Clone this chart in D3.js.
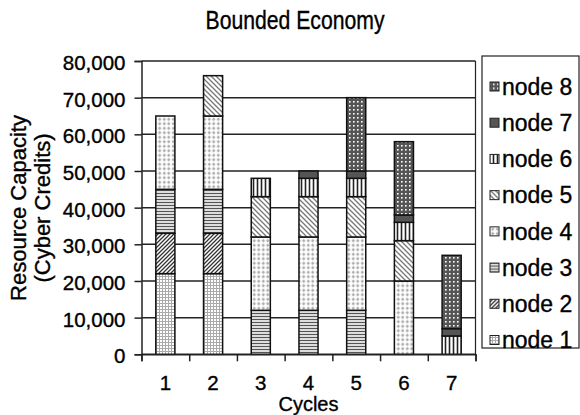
<!DOCTYPE html>
<html>
<head>
<meta charset="utf-8">
<script src="https://cdn.jsdelivr.net/npm/d3@7"></script>
<style>
  body { margin: 0; background: #fff; }
  text { font-family: "Liberation Sans", Arial, sans-serif; fill: #000; stroke: #000; stroke-width: 0.35px; }
</style>
</head>
<body>
<div id="chart"></div>
<script>
// data
var cycles = ["1", "2", "3", "4", "5", "6", "7"];
var nodes = ["node 1", "node 2", "node 3", "node 4", "node 5", "node 6", "node 7", "node 8"];
var node1 = [22000, 22000, 0, 0, 0, 0, 0];
var node2 = [11000, 11000, 0, 0, 0, 0, 0];
var node3 = [12000, 12000, 12000, 12000, 12000, 0, 0];
var node4 = [20000, 20000, 20000, 20000, 20000, 20000, 0];
var node5 = [0, 11000, 11000, 11000, 11000, 11000, 0];
var node6 = [0, 0, 5000, 5000, 5000, 5000, 5000];
var node7 = [0, 0, 0, 2000, 2000, 2000, 2000];
var node8 = [0, 0, 0, 0, 20000, 20000, 20000];
var yTicks = [0, 10000, 20000, 30000, 40000, 50000, 60000, 70000, 80000];

var series = [node1, node2, node3, node4, node5, node6, node7, node8];
var rows = cycles.map(function (c, i) {
  var r = { cycle: c };
  nodes.forEach(function (n, j) { r[n] = series[j][i]; });
  return r;
});

var width = 580, height = 415;
var plotL = 141.5, plotR = 475.5, plotT = 61, plotB = 354.3;

var svg = d3.select("#chart").append("svg")
  .attr("width", width).attr("height", height);

/* patterns */
var defs = svg.append("defs");
function pat(id, w, h, bg) {
  var p = defs.append("pattern").attr("id", id)
    .attr("patternUnits", "userSpaceOnUse").attr("width", w).attr("height", h);
  p.append("rect").attr("width", w).attr("height", h).attr("fill", bg);
  return p;
}
var p1 = pat("p1", 3, 3, "#fff");
p1.append("path").attr("d", "M0,0.5H3M0.5,0V3").attr("stroke", "#aaa").attr("stroke-width", 1);
var p2 = pat("p2", 4, 4, "#fff");
p2.append("path").attr("d", "M-1,1L1,-1M0,4L4,0M3,5L5,3").attr("stroke", "#333").attr("stroke-width", 1.3);
var p3 = pat("p3", 3, 3, "#fff");
p3.append("path").attr("d", "M0,1.5H3").attr("stroke", "#555").attr("stroke-width", 1.4);
var p4 = pat("p4", 4.5, 4.5, "#fff");
p4.append("path").attr("d", "M2.25,0.75V3.75M0.75,2.25H3.75").attr("stroke", "#aaa").attr("stroke-width", 1.3);
var p5 = pat("p5", 5, 5, "#fff");
p5.append("path").attr("d", "M-1,4L1,6M0,0L5,5M4,-1L6,1").attr("stroke", "#777").attr("stroke-width", 1.3);
var p6 = pat("p6", 4, 4, "#fff");
p6.append("path").attr("d", "M1.5,0V4").attr("stroke", "#222").attr("stroke-width", 1.6);
pat("p7", 4, 4, "#555");
var p8 = pat("p8", 4, 4, "#555");
p8.append("rect").attr("x", 1).attr("y", 1).attr("width", 1.6).attr("height", 1.6).attr("fill", "#fff");
var fills = ["url(#p1)", "url(#p2)", "url(#p3)", "url(#p4)", "url(#p5)", "url(#p6)", "url(#p7)", "url(#p8)"];

/* scales */
var x = d3.scaleBand().domain(cycles).range([plotL, plotR]).paddingInner(0.6).paddingOuter(0.3);
var xEdges = d3.scaleLinear().domain([0, cycles.length]).range([plotL, plotR]);
var y = d3.scaleLinear().domain([0, 80000]).range([plotB, plotT]);

/* gridlines */
svg.append("g").selectAll("line").data(yTicks).enter().append("line")
  .attr("x1", plotL).attr("x2", plotR)
  .attr("y1", function (d) { return y(d); }).attr("y2", function (d) { return y(d); })
  .attr("stroke", "#222").attr("stroke-width", 1.5);
svg.append("line").attr("x1", plotR).attr("x2", plotR).attr("y1", plotT).attr("y2", plotB)
  .attr("stroke", "#222").attr("stroke-width", 1.2);

/* bars */
var stack = d3.stack().keys(nodes)(rows);
var groups = svg.append("g").selectAll("g").data(stack).enter().append("g")
  .attr("fill", function (d, i) { return fills[i]; });
groups.selectAll("rect")
  .data(function (d) { return d.filter(function (s) { return s[1] - s[0] > 0; }); })
  .enter().append("rect")
  .attr("x", function (d) { return x(d.data.cycle); })
  .attr("width", x.bandwidth())
  .attr("y", function (d) { return y(d[1]); })
  .attr("height", function (d) { return y(d[0]) - y(d[1]); })
  .attr("stroke", "#111").attr("stroke-width", 1.5);

/* axes */
var yAxis = d3.axisLeft(y).tickValues(yTicks).tickFormat(d3.format(",")).tickSize(7).tickPadding(9);
var gy = svg.append("g").attr("transform", "translate(" + plotL + ",0)").call(yAxis);
gy.selectAll("text").style("font-size", "20.5px").attr("dy", "0.42em");

var gxe = svg.append("g").attr("transform", "translate(0," + plotB + ")")
  .call(d3.axisBottom(xEdges).ticks(cycles.length).tickFormat("").tickSize(7));
var gx = svg.append("g").attr("transform", "translate(0," + plotB + ")")
  .call(d3.axisBottom(x).tickSize(0).tickPadding(21));
gx.select(".domain").remove();
gx.selectAll("text").style("font-size", "20.5px");
[gy, gxe].forEach(function (g) {
  g.selectAll("line, path").attr("stroke", "#222").attr("stroke-width", 1.5);
});

/* titles */
svg.append("text").attr("x", 295).attr("y", 29).attr("text-anchor", "middle")
  .attr("textLength", 179).attr("lengthAdjust", "spacingAndGlyphs")
  .style("font-size", "25px").text("Bounded Economy");
svg.append("text").attr("x", 308.5).attr("y", 410.5).attr("text-anchor", "middle")
  .style("font-size", "20px").text("Cycles");
var yt = svg.append("text").attr("transform", "translate(26,208) rotate(-90)")
  .attr("text-anchor", "middle").style("font-size", "22px");
yt.append("tspan").attr("x", 0).attr("y", 0).text("Resource Capacity");
yt.append("tspan").attr("x", 0).attr("y", 24).text("(Cyber Credits)");

/* legend */
var lg = svg.append("g");
lg.append("rect").attr("x", 482).attr("y", 56).attr("width", 97).attr("height", 292)
  .attr("fill", "#fff").attr("stroke", "#222").attr("stroke-width", 1.2);
var legendNodes = nodes.slice().reverse();
var ly = d3.scalePoint().domain(legendNodes).range([86.5, 340]);
var items = lg.selectAll("g.item").data(legendNodes).enter().append("g").attr("class", "item")
  .attr("transform", function (d) { return "translate(0," + ly(d) + ")"; });
items.append("rect").attr("x", 490).attr("y", -4.5).attr("width", 9).attr("height", 9)
  .attr("fill", function (d) { return fills[nodes.indexOf(d)]; })
  .attr("stroke", "#222").attr("stroke-width", 1);
items.append("text").attr("x", 502).attr("y", 0).attr("dy", "0.36em")
  .style("font-size", "23px").text(function (d) { return d; });
</script>
</body>
</html>
